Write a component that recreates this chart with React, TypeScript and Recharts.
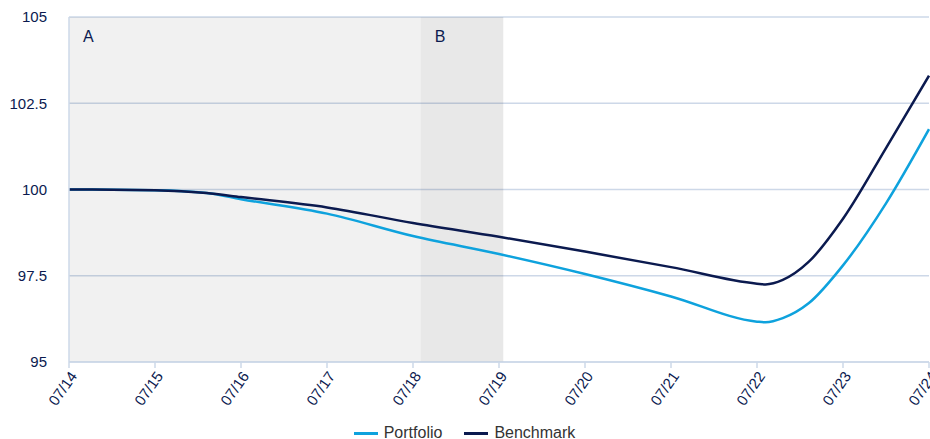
import React from 'react';
import {
  LineChart,
  Line,
  XAxis,
  YAxis,
  CartesianGrid,
  Legend,
  ReferenceArea,
} from 'recharts';

// days since 07/14
const days = [0, 1, 1.6, 2, 3, 4, 5, 6, 7, 8, 8.1, 8.3, 8.6, 9, 9.5, 10];
const portfolio = [100, 99.98, 99.9, 99.72, 99.3, 98.65, 98.13, 97.55, 96.9, 96.17, 96.15, 96.27, 96.7, 97.8, 99.6, 101.75];
const benchmark = [100, 99.98, 99.9, 99.78, 99.48, 99.03, 98.63, 98.2, 97.75, 97.27, 97.25, 97.38, 97.9, 99.15, 101.2, 103.3];

const dateLabels = ['07/14', '07/15', '07/16', '07/17', '07/18', '07/19', '07/20', '07/21', '07/22', '07/23', '07/24'];
const yTicks = [95, 97.5, 100, 102.5, 105];

// shaded periods (in days since 07/14)
const periodA = [0, 4.09];
const periodB = [4.09, 5.05];

const NAVY = '#0b1a4f';
const BLUE = '#0ea2dd';
const GRID = '#cdd8e8';
const FONT = '"Liberation Sans", Arial, sans-serif';

const chartData = days.map((d, i) => ({
  day: d,
  portfolio: portfolio[i],
  benchmark: benchmark[i],
}));

const series = [
  { key: 'portfolio', name: 'Portfolio', color: BLUE },
  { key: 'benchmark', name: 'Benchmark', color: NAVY },
];

const LegendContent = () => (
  <div style={{ display: 'flex', justifyContent: 'center', fontFamily: FONT, fontSize: 16, lineHeight: '20px', height: 20, color: '#333' }}>
    {series.map((s) => (
      <div key={s.key} style={{ display: 'flex', alignItems: 'center', margin: '0 11px' }}>
        <span style={{ display: 'inline-block', width: 24, height: 3, background: s.color, marginRight: 6 }} />
        <span>{s.name}</span>
      </div>
    ))}
  </div>
);

export default function App() {
  return (
    <div style={{ position: 'fixed', left: 0, top: 0, width: 930, height: 439, overflow: 'hidden', background: '#fff' }}>
      <LineChart width={930} height={443} data={chartData} margin={{ top: 17, right: 1, left: 0, bottom: 0 }}>
        <CartesianGrid vertical={false} stroke={GRID} strokeWidth={1.5} />
        <ReferenceArea
          x1={periodA[0]}
          x2={periodA[1]}
          fill="#000"
          fillOpacity={0.055}
          label={{ value: 'A', position: 'insideTopLeft', offset: 14, fill: NAVY, fontSize: 16, fontFamily: FONT }}
        />
        <ReferenceArea
          x1={periodB[0]}
          x2={periodB[1]}
          fill="#000"
          fillOpacity={0.09}
          label={{ value: 'B', position: 'insideTopLeft', offset: 14, fill: NAVY, fontSize: 16, fontFamily: FONT }}
        />
        <XAxis
          dataKey="day"
          type="number"
          domain={[0, 10]}
          ticks={dateLabels.map((_, i) => i)}
          tickFormatter={(v) => dateLabels[v]}
          interval={0}
          height={61}
          axisLine={{ stroke: GRID, strokeWidth: 1.5 }}
          tickLine={{ stroke: GRID, strokeWidth: 1.5 }}
          tickSize={6}
          tick={{ angle: -55, textAnchor: 'end', fill: NAVY, fontSize: 15, fontFamily: FONT }}
        />
        <YAxis
          domain={[95, 105]}
          ticks={yTicks}
          width={69}
          axisLine={{ stroke: GRID, strokeWidth: 1.5 }}
          tickLine={false}
          tickMargin={16}
          tick={{ fill: NAVY, fontSize: 15, fontFamily: FONT }}
        />
        <Legend verticalAlign="bottom" content={<LegendContent />} />
        <Line
          type="monotone"
          dataKey="portfolio"
          name="Portfolio"
          stroke={BLUE}
          strokeWidth={2.5}
          dot={false}
          isAnimationActive={false}
        />
        <Line
          type="monotone"
          dataKey="benchmark"
          name="Benchmark"
          stroke={NAVY}
          strokeWidth={2.5}
          dot={false}
          isAnimationActive={false}
        />
      </LineChart>
    </div>
  );
}
